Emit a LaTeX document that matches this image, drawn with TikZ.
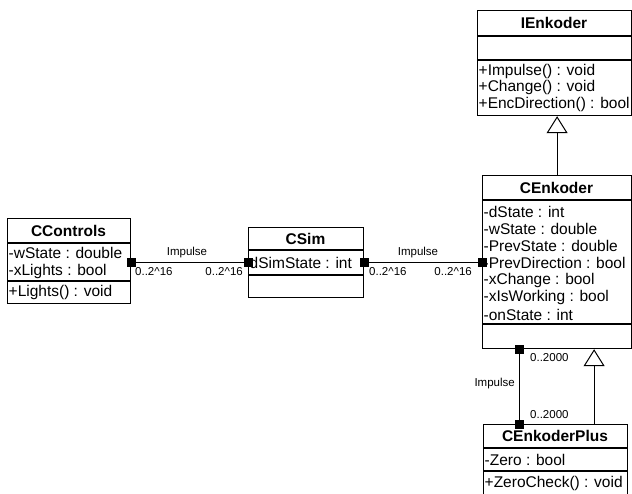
\documentclass[tikz,border=0pt]{standalone}
\usepackage{fontspec}
\setmainfont{Liberation Sans}
\usetikzlibrary{arrows.meta}
\begin{document}
\begin{tikzpicture}[x=1pt,y=-1pt,
  box/.style={draw, line width=1.2pt, inner sep=0pt, anchor=north west},
  sepline/.style={line width=1.2pt},
  cname/.style={font=\fontsize{15.5}{17}\selectfont\bfseries, inner sep=0pt},
  member/.style={font=\fontsize{15.5}{17}\selectfont, inner sep=0pt, anchor=west},
  lbl/.style={font=\fontsize{11.5}{13}\selectfont, inner sep=0pt},
  conn/.style={line width=1pt},
  sq/.style={fill=black, inner sep=0pt, minimum size=9pt},
  gen/.style={line width=1pt, -{Triangle[open, length=17pt, width=21pt, line width=1pt, fill=white]}},
]
\useasboundingbox (0,0) rectangle (632,493);

% IEnkoder
\node[box, minimum width=154pt, minimum height=105pt] (ienk) at (477,10) {};
\draw[sepline] (477,36) -- (631,36);
\draw[sepline] (477,60) -- (631,60);
\node[cname] (ienkT) at (554,23) {IEnkoder};
\node[member] (ienk1) at (478.5,71) {+Impulse() : void};
\node[member] (ienk2) at (478.5,87.5) {+Change() : void};
\node[member] (ienk3) at (478.5,104) {+EncDirection() : bool};

% CEnkoder
\node[box, minimum width=149pt, minimum height=173pt] (cenk) at (482,175) {};
\draw[sepline] (482,200) -- (631,200);
\draw[sepline] (482,324) -- (631,324);
\node[cname] (cenkT) at (556.5,187.5) {CEnkoder};
\node[member] (cenk1) at (483.5,211.7) {-dState : int};
\node[member] (cenk2) at (483.5,228.8) {-wState : double};
\node[member] (cenk3) at (483.5,246) {-PrevState : double};
\node[member] (cenk4) at (483.5,263.2) {-PrevDirection : bool};
\node[member] (cenk5) at (483.5,280.4) {-xChange : bool};
\node[member] (cenk6) at (483.5,297.6) {-xIsWorking : bool};
\node[member] (cenk7) at (483.5,314.8) {-onState : int};

% CEnkoderPlus
\node[box, minimum width=144pt, minimum height=71pt] (plus) at (483,424) {};
\draw[sepline] (483,448) -- (627,448);
\draw[sepline] (483,471) -- (627,471);
\node[cname] (plusT) at (555,436) {CEnkoderPlus};
\node[member] (plus1) at (484.5,460) {-Zero : bool};
\node[member] (plus2) at (484.5,483) {+ZeroCheck() : void};

% CControls
\node[box, minimum width=123pt, minimum height=85pt] (ctrl) at (7,218) {};
\draw[sepline] (7,243) -- (130,243);
\draw[sepline] (7,281) -- (130,281);
\node[cname] (ctrlT) at (68.5,230.5) {CControls};
\node[member] (ctrl1) at (8.5,253) {-wState : double};
\node[member] (ctrl2) at (8.5,271) {-xLights : bool};
\node[member] (ctrl3) at (8.5,292) {+Lights() : void};

% CSim
\node[box, minimum width=115pt, minimum height=70pt] (csim) at (248,227) {};
\draw[sepline] (248,250) -- (363,250);
\draw[sepline] (248,275) -- (363,275);
\node[cname] (csimT) at (305.5,238.5) {CSim};
\node[member] (csim1) at (249.5,262.5) {dSimState : int};

% Association CControls -- CSim
\coordinate (a1s) at (ctrl.east |- csim.west);
\coordinate (a1e) at (csim.west);
\draw[conn] (a1s) -- (a1e);
\node[sq] (a1sq1) at (a1s) {};
\node[sq] (a1sq2) at (a1e) {};
\node[lbl] (a1n) at (187,253) {Impulse};
\node[lbl, anchor=west] (a1m1) at (135,271.5) {0..2\textasciicircum 16};
\node[lbl, anchor=east] (a1m2) at (243,271.5) {0..2\textasciicircum 16};

% Association CSim -- CEnkoder
\coordinate (a2s) at (csim.east);
\coordinate (a2e) at (cenk.west |- csim.east);
\draw[conn] (a2s) -- (a2e);
\node[sq] (a2sq1) at (a2s) {};
\node[sq] (a2sq2) at (a2e) {};
\node[lbl] (a2n) at (418,253) {Impulse};
\node[lbl, anchor=west] (a2m1) at (369,271.5) {0..2\textasciicircum 16};
\node[lbl, anchor=east] (a2m2) at (472,271.5) {0..2\textasciicircum 16};

% Association CEnkoder -- CEnkoderPlus
\coordinate (a3s) at ([xshift=-37.5pt]cenk.south);
\coordinate (a3e) at (a3s |- plus.north);
\draw[conn] (a3s) -- (a3e);
\node[sq] (a3sq1) at (a3s) {};
\node[sq] (a3sq2) at (a3e) {};
\node[lbl, anchor=east] (a3n) at (515,384) {Impulse};
\node[lbl, anchor=west] (a3m1) at (530,358) {0..2000};
\node[lbl, anchor=west] (a3m2) at (530,415) {0..2000};

% Generalizations
\draw[gen] (cenk.north) -- (cenk.north |- ienk.south);
\coordinate (g2) at ([xshift=38.5pt]plus.north);
\draw[gen] (g2) -- (g2 |- cenk.south);
\end{tikzpicture}
\end{document}
